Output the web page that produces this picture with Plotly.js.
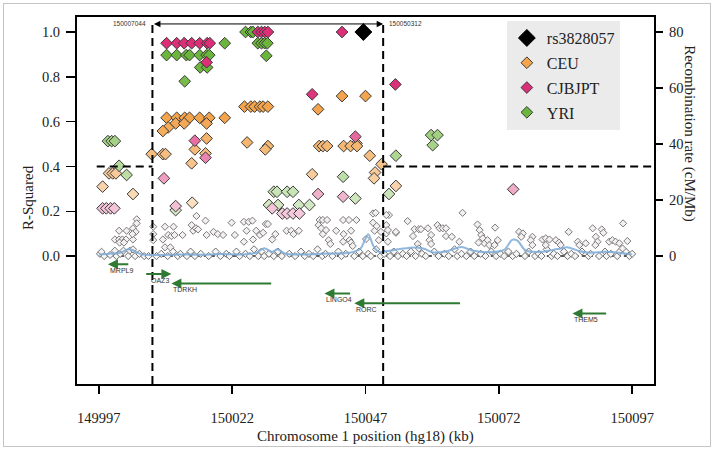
<!DOCTYPE html>
<html><head><meta charset="utf-8">
<script src="https://cdn.plot.ly/plotly-3.0.1.min.js"></script>
<style>
html,body{margin:0;padding:0;background:#fff;}
#wrap{position:relative;width:715px;height:450px;}
#frame{position:absolute;left:3px;top:3px;width:706px;height:442px;border:1px solid #c4c4c4;pointer-events:none;}
#chart{position:absolute;left:0;top:0;width:715px;height:450px;}
</style></head>
<body><div id="wrap"><div id="chart"></div><div id="frame"></div></div>
<script>
// ---------- data ----------
const xTicks = [149997, 150022, 150047, 150072, 150097];
const regionStart = 150007.044, regionEnd = 150050.312;
const regionLabels = ['150007044', '150050312'];
const r2Threshold = 0.4;

const leadName = 'rs3828057';
const leadKb = [150046.6];
const leadR2 = [1.0];

const ceuKb = [150042.6,150047.0,150024.3,150025.5,150026.2,150027.2,150027.8,150028.7,150038.1,150009.7,
150011.6,150013.1,150014.0,150015.9,150017.7,150020.6,150011.4,150013.0,150017.2,150010.0,
150009.0,150017.2,150024.8,150045.3,150028.7,150038.3,150039.0,150039.8,150042.9,150044.2,
150045.4,150028.2,150015.0,150017.0,150006.9,150009.0,150009.5,150047.8,150014.4,150050.0,
150048.8,150037.0,149998.9,149999.6,150000.2,150048.6,150052.7,149997.7,150003.4,150014.5];
const ceuR2 = [0.714,0.714,0.667,0.667,0.667,0.667,0.667,0.667,0.655,0.617,
0.617,0.617,0.617,0.617,0.617,0.617,0.592,0.592,0.592,0.574,
0.558,0.525,0.507,0.503,0.491,0.491,0.491,0.491,0.491,0.491,
0.491,0.476,0.476,0.458,0.455,0.455,0.455,0.448,0.414,0.410,
0.373,0.365,0.369,0.369,0.369,0.347,0.313,0.310,0.277,0.238];

const cjbKb = [150026.8,150027.5,150028.1,150028.7,150042.6,150009.7,150011.6,150013.0,150014.4,150015.9,
150017.3,150017.8,150017.2,150052.6,150037.0,150045.1,150015.0,150017.0,150009.2,150074.7,
150038.1,150042.8,150011.4,149997.7,149998.4,149999.2,149999.9,150029.5,150031.4,150032.3,
150033.4,150034.6];
const cjbR2 = [1.0,1.0,1.0,1.0,1.0,0.95,0.95,0.95,0.95,0.95,
0.95,0.95,0.865,0.766,0.722,0.533,0.515,0.439,0.347,0.298,
0.277,0.265,0.223,0.213,0.213,0.213,0.213,0.213,0.19,0.19,
0.19,0.19];

const yriKb = [150024.5,150025.5,150025.9,150020.6,150026.8,150027.5,150028.1,150028.6,150009.7,150011.6,
150013.4,150014.0,150015.9,150017.2,150017.7,150028.4,150016.0,150017.3,150013.1,150059.3,
150060.5,149998.7,149999.4,150000.0,150059.6,150052.7,150000.8,150002.2,150042.8,150029.8,
150030.4,150032.3,150033.4,150051.4,150045.1,150028.9,150030.6,150034.5,150036.5,150011.4];
const yriR2 = [1.0,1.0,1.0,0.95,0.95,0.95,0.95,0.95,0.897,0.897,
0.897,0.897,0.897,0.897,0.897,0.894,0.842,0.842,0.78,0.54,
0.54,0.513,0.513,0.513,0.495,0.448,0.403,0.362,0.354,0.287,
0.287,0.287,0.287,0.277,0.257,0.228,0.228,0.228,0.228,0.205];

const grayKb = [150004.1,150004.1,150000.8,150002.2,150003.4,150003.9,150000.0,150000.8,150001.4,150002.1,
150000.9,150001.7,150003.4,150003.3,149997.5,150000.0,150001.6,150002.8,150003.4,150007.2,
150007.2,150007.2,150009.4,150011.0,150009.0,150010.0,150010.6,150011.2,150009.4,150010.4,
150012.7,150014.4,150014.7,150015.2,150015.6,150017.0,150015.3,150017.2,150018.5,150019.3,
150020.3,150021.9,150022.5,150024.2,150024.2,150024.7,150025.1,150025.8,150025.9,150026.5,
150027.2,150027.8,150028.3,150028.7,150029.5,150030.1,150032.2,150033.1,150033.5,150034.5,
150038.4,150039.0,150039.8,150038.2,150038.7,150039.0,150039.6,150040.1,150040.4,150041.5,
150042.8,150043.9,150045.3,150042.8,150044.0,150044.3,150044.6,150047.1,150048.4,150048.4,
150048.7,150049.1,150049.5,150049.9,150051.4,150050.9,150050.9,150050.9,150051.2,150052.7,
150054.9,150056.2,150057.0,150057.4,150055.9,150056.8,150057.0,150058.7,150059.3,150059.0,
150059.3,150060.5,150060.9,150061.5,150062.1,150062.1,150063.2,150064.6,150065.2,150068.0,
150068.4,150068.7,150069.0,150069.3,150068.2,150069.9,150070.2,150071.3,150071.8,150071.2,
150075.8,150076.5,150076.2,150078.3,150078.0,150078.3,150080.2,150080.8,150081.5,150080.8,
150082.7,150083.3,150083.6,150085.1,150086.8,150087.1,150088.3,150089.6,150090.2,150090.5,
150090.1,150091.3,150091.6,150092.7,150093.3,150093.9,150094.6,150094.6,150095.2,150096.1,
150095.3,150048.9,150051.2,150052.7,150042.9,150044.3];
const grayR2 = [0.164,0.146,0.113,0.113,0.124,0.108,0.074,0.074,0.074,0.074,
0.060,0.060,0.074,0.098,0.019,0.024,0.024,0.024,0.030,0.131,
0.098,0.071,0.131,0.131,0.074,0.094,0.089,0.094,0.039,0.039,
0.094,0.138,0.113,0.124,0.119,0.158,0.179,0.094,0.108,0.098,
0.094,0.149,0.094,0.064,0.153,0.113,0.153,0.158,0.074,0.113,
0.094,0.104,0.143,0.143,0.074,0.098,0.113,0.113,0.098,0.113,
0.161,0.161,0.161,0.138,0.124,0.098,0.116,0.071,0.054,0.113,
0.161,0.161,0.161,0.064,0.071,0.060,0.045,0.076,0.190,0.149,
0.113,0.134,0.071,0.108,0.183,0.183,0.138,0.101,0.064,0.104,
0.156,0.120,0.120,0.120,0.089,0.054,0.034,0.124,0.094,0.071,
0.054,0.138,0.124,0.124,0.124,0.089,0.086,0.064,0.193,0.141,
0.116,0.094,0.079,0.057,0.060,0.071,0.049,0.127,0.071,0.049,
0.108,0.101,0.086,0.086,0.071,0.049,0.074,0.079,0.074,0.049,
0.071,0.060,0.049,0.108,0.064,0.049,0.057,0.124,0.086,0.064,
0.049,0.119,0.104,0.064,0.071,0.064,0.057,0.019,0.034,0.067,
0.146,0.193,0.116,0.108,0.098,0.113];

const lowKb = [149997.2,149998.0,149999.1,150000.3,150001.0,150002.5,150003.8,150004.6,150005.5,150006.3,
150007.8,150008.7,150009.9,150010.9,150011.8,150012.3,150013.5,150014.2,150015.0,150016.1,
150017.6,150018.9,150019.8,150020.9,150021.5,150022.8,150023.4,150024.5,150025.3,150026.1,
150026.9,150027.5,150028.0,150028.9,150029.8,150030.6,150031.3,150032.7,150033.8,150034.9,
150035.6,150036.4,150037.2,150038.0,150038.9,150039.5,150040.8,150041.9,150042.5,150043.3,
150044.9,150045.8,150046.5,150047.5,150048.0,150049.0,150049.8,150050.5,150051.6,150052.3,
150053.1,150054.0,150054.7,150055.5,150056.4,150057.6,150058.3,150059.9,150060.7,150061.8,
150062.6,150063.7,150064.2,150065.0,150065.9,150066.7,150067.4,150068.6,150069.5,150070.6,
150071.5,150072.3,150073.0,150073.8,150074.6,150075.3,150076.9,150077.6,150078.8,150079.5,
150080.0,150081.0,150081.9,150082.3,150083.0,150084.2,150084.9,150085.6,150086.3,150087.6,
150088.8,150089.2,150090.8,150091.9,150092.2,150093.0,150094.2,150095.8,150096.5,150097.0];
const lowR2 = [0.01,0.0,0.005,0.0,0.01,0.0,0.0,0.01,0.0,0.0,
0.0,0.01,0.0,0.02,0.0,0.01,0.0,0.02,0.0,0.01,
0.0,0.02,0.0,0.01,0.0,0.02,0.0,0.01,0.0,0.03,
0.0,0.02,0.0,0.01,0.0,0.02,0.0,0.01,0.0,0.02,
0.0,0.01,0.0,0.03,0.0,0.01,0.0,0.02,0.0,0.01,
0.0,0.02,0.0,0.01,0.0,0.03,0.0,0.01,0.0,0.02,
0.0,0.01,0.0,0.02,0.0,0.01,0.0,0.02,0.0,0.01,
0.0,0.03,0.0,0.01,0.0,0.02,0.0,0.01,0.0,0.02,
0.0,0.01,0.0,0.02,0.0,0.01,0.0,0.02,0.0,0.01,
0.0,0.03,0.0,0.01,0.0,0.02,0.0,0.01,0.0,0.02,
0.0,0.01,0.0,0.02,0.0,0.01,0.0,0.02,0.0,0.01];

const rateKb = [149997,149999,150001,150002.5,150003.5,150005,150008,150012,150016,150020,
150024,150026.5,150028,150029.5,150030.5,150032,150036,150040,150044,150046,
150047.5,150048.5,150049.5,150051,150053.5,150056,150058,150059.5,150062,150065,
150067,150070,150073,150074.5,150075.5,150077,150080,150083,150085,150087,
150089,150092,150094,150097];
const rateVal = [0.5,0.8,1.2,2.4,2.0,0.6,0.4,0.6,0.5,0.7,
0.6,1.2,2.8,1.5,2.4,0.8,0.6,0.9,1.2,2.5,
7.8,3.5,1.5,1.8,2.5,3.1,2.6,1.4,1.6,3.2,
2.0,1.4,2.2,5.8,5.5,2.0,1.5,2.5,3.1,1.8,
1.2,1.5,1.3,0.6];

const geneNames = ['MRPL9','OAZ3','TDRKH','LINGO4','RORC','THEM5'];
const geneTail = [150002.8,150005.6,150029.6,150044.4,150065.0,150092.4];
const geneHead = [149998.7,150010.6,150010.6,150039.3,150044.9,150085.8];
const geneRow = [-0.036,-0.080,-0.122,-0.167,-0.211,-0.256];

// ---------- chart ----------
const serif = 'Liberation Serif, Times New Roman, serif';
const sans = 'Liberation Sans, Arial, sans-serif';
const xMin = 149992.9, xMax = 150101.1;
const yMin = -0.571, yMax = 1.067;

const traces = [
  {x: lowKb, y: lowR2, type:'scatter', mode:'markers', showlegend:false, hoverinfo:'skip',
   marker:{symbol:'diamond', size:5.5, color:'#f6f6f6', line:{color:'#6f6f6f', width:1}}},
  {x: grayKb, y: grayR2, type:'scatter', mode:'markers', showlegend:false, hoverinfo:'skip',
   marker:{symbol:'diamond', size:5.5, color:'#f4f0f2', line:{color:'#7a7a7a', width:1}}},
  {x: rateKb, y: rateVal, yaxis:'y2', type:'scatter', mode:'lines', showlegend:false, hoverinfo:'skip',
   line:{color:'rgba(125,170,215,0.85)', width:2, shape:'spline', smoothing:0.8}},
  {x: ceuKb, y: ceuR2, type:'scatter', mode:'markers', name:'CEU', legendrank:2, legendgroup:'c',
   marker:{symbol:'diamond', size:9, color: ceuR2, cmin:0.15, cmax:0.62,
     colorscale:[[0,'#fcecdc'],[1,'#f3a44c']], line:{color:'#3a3a3a', width:1}}},
  {x: yriKb, y: yriR2, type:'scatter', mode:'markers', name:'YRI', legendrank:4, legendgroup:'y',
   marker:{symbol:'diamond', size:9, color: yriR2, cmin:0.1, cmax:0.85,
     colorscale:[[0,'#e8f3de'],[1,'#6cb53c']], line:{color:'#3a3a3a', width:1}}},
  {x: cjbKb, y: cjbR2, type:'scatter', mode:'markers', name:'CJBJPT', legendrank:3, legendgroup:'j',
   marker:{symbol:'diamond', size:9, color: cjbR2, cmin:0.1, cmax:0.75,
     colorscale:[[0,'#f8e2ec'],[1,'#dd2e78']], line:{color:'#3a3a3a', width:1}}},
  {x: leadKb, y: leadR2, type:'scatter', mode:'markers', name: leadName, legendrank:1, legendgroup:'l',
   marker:{symbol:'diamond', size:13, color:'#000', line:{color:'#000', width:1}}}
];

const shapes = [
  {type:'line', xref:'x', yref:'paper', x0:regionStart, x1:regionStart, y0:0, y1:0.981,
   line:{color:'#000', width:2, dash:'8px,5px'}},
  {type:'line', xref:'x', yref:'paper', x0:regionEnd, x1:regionEnd, y0:0, y1:0.981,
   line:{color:'#000', width:2, dash:'8px,5px'}},
  {type:'line', xref:'x', yref:'y', x0:149996.6, x1:regionStart, y0:r2Threshold, y1:r2Threshold,
   line:{color:'#000', width:2, dash:'8px,5px'}},
  {type:'line', xref:'x', yref:'y', x0:regionEnd, x1:xMax, y0:r2Threshold, y1:r2Threshold,
   line:{color:'#000', width:2, dash:'8px,5px'}},
  {type:'line', xref:'x', yref:'y', x0:xTicks[0], x1:xTicks[4], y0:0, y1:0,
   line:{color:'#222', width:1.5, dash:'4px,3px'}, layer:'below'}
];

const annotations = [
  {xref:'x', yref:'y', x:regionEnd, y:1.036, axref:'x', ayref:'y', ax:regionStart, ay:1.036,
   text:'', showarrow:true, arrowhead:2, startarrowhead:2, arrowside:'end+start', arrowsize:1.3, arrowwidth:1, arrowcolor:'#000'},
  {xref:'x', yref:'y', x:regionStart, y:1.036, text:regionLabels[0], showarrow:false, xanchor:'right', yanchor:'middle', xshift:-4,
   font:{family:sans, size:6.5, color:'#333'}},
  {xref:'x', yref:'y', x:regionEnd, y:1.036, text:regionLabels[1], showarrow:false, xanchor:'left', yanchor:'middle', xshift:4,
   font:{family:sans, size:6.5, color:'#333'}},
  {xref:'paper', yref:'paper', x:0.5, y:-0.1417, text:'Chromosome 1 position (hg18) (kb)', showarrow:false,
   xanchor:'center', yanchor:'middle', font:{family:serif, size:15, color:'#222'}},
  {xref:'paper', yref:'paper', x:-0.0848, y:0.507, text:'R-Squared', showarrow:false, textangle:-90,
   xanchor:'center', yanchor:'middle', font:{family:serif, size:15, color:'#222'}},
  {xref:'paper', yref:'paper', x:1.0623, y:0.681, text:'Recombination rate (cM/Mb)', showarrow:false, textangle:90,
   xanchor:'center', yanchor:'middle', font:{family:serif, size:15, color:'#222'}}
];
geneNames.forEach((g, i) => {
  annotations.push({xref:'x', yref:'y', x:geneHead[i], y:geneRow[i], axref:'x', ayref:'y', ax:geneTail[i], ay:geneRow[i],
    text:'', showarrow:true, arrowhead:2, arrowsize:1, arrowwidth:2, arrowcolor:'#2f7a32'});
  annotations.push({xref:'x', yref:'y', x:geneHead[i], y:geneRow[i], text:g, showarrow:false,
    xanchor: geneHead[i] < geneTail[i] ? 'left' : 'right', yanchor:'top', yshift:-1,
    font:{family:sans, size:7, color:'#333'}});
});

const layout = {
  width:715, height:450,
  margin:{l:77, r:61, t:17, b:66, pad:0},
  paper_bgcolor:'rgba(0,0,0,0)', plot_bgcolor:'#fff',
  showlegend:true,
  legend:{x:0.745, xanchor:'left', y:0.989, yanchor:'top', bgcolor:'#ebebeb', borderwidth:0,
    font:{family:serif, size:16, color:'#222'}, tracegroupgap:1, itemsizing:'trace'},
  xaxis:{range:[xMin, xMax], tickvals:xTicks, ticktext:xTicks.map(String), ticks:'outside', ticklen:8, tickwidth:1.5,
    tickcolor:'#000', showline:true, linewidth:2, linecolor:'#000', mirror:true, showgrid:false, zeroline:false,
    ticklabelstandoff:12, tickfont:{family:serif, size:14.5, color:'#222'}},
  yaxis:{range:[yMin, yMax], tickvals:[0,0.2,0.4,0.6,0.8,1.0], ticktext:['0.0','0.2','0.4','0.6','0.8','1.0'],
    ticks:'outside', ticklen:9, tickwidth:1.5, tickcolor:'#000', showline:true, linewidth:2, linecolor:'#000', mirror:true,
    showgrid:false, zeroline:false, ticklabelstandoff:3, tickfont:{family:serif, size:14.5, color:'#222'}},
  yaxis2:{range:[yMin*80, yMax*80], overlaying:'y', side:'right', tickvals:[0,20,40,60,80],
    ticks:'outside', ticklen:7, tickwidth:1.5, tickcolor:'#000', showline:true, linewidth:2, linecolor:'#000',
    showgrid:false, zeroline:false, ticklabelstandoff:3, tickfont:{family:serif, size:14.5, color:'#222'}},
  shapes: shapes,
  annotations: annotations
};

Plotly.newPlot('chart', traces, layout, {displayModeBar:false, staticPlot:true});
</script></body></html>
